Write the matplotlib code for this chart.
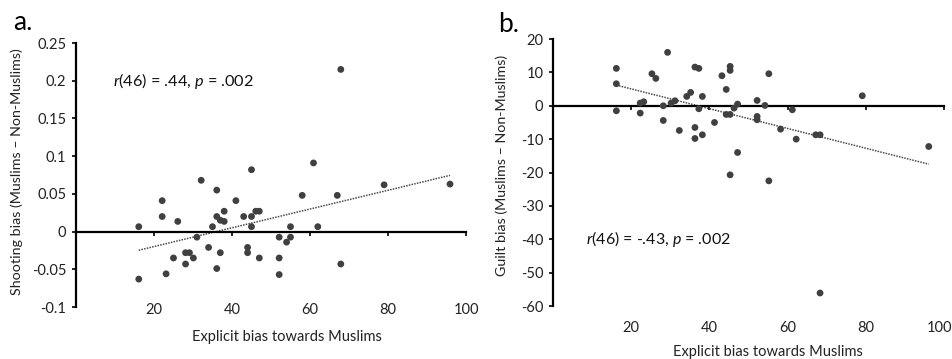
import numpy as np
import matplotlib
matplotlib.use("Agg")
import matplotlib.pyplot as plt
from matplotlib.transforms import ScaledTranslation

plt.rcParams["font.family"] = ["Lato", "DejaVu Sans"]
plt.rcParams["axes.unicode_minus"] = False
plt.rcParams["mathtext.fontset"] = "custom"
plt.rcParams["mathtext.it"] = "Lato:italic"
plt.rcParams["mathtext.rm"] = "Lato"

# panel a: explicit bias vs shooting bias
shoot_x = [16.1, 16.1, 22.1, 22.1, 23.1, 26.1, 25.0, 28.1, 29.1, 28.1, 30.1, 31.0,
           32.1, 34.0, 35.0, 36.1, 36.1, 36.1, 37.0, 37.0, 38.0, 38.0, 41.0, 43.0,
           44.0, 44.0, 45.0, 45.0, 46.1, 47.0, 47.0, 45.0, 52.1, 52.1, 52.1, 54.0,
           55.0, 55.0, 58.0, 62.0, 60.9, 67.0, 67.9, 67.9, 79.0, 95.9]
shoot_y = [0.0065, -0.063, 0.041, 0.020, -0.056, 0.0135, -0.035, -0.028, -0.028, -0.043,
           -0.035, -0.0074, 0.068, -0.021, 0.0065, 0.055, 0.020, -0.049, -0.028, 0.015,
           0.027, 0.0135, 0.041, 0.020, -0.021, -0.028, 0.020, 0.0065, 0.027, 0.027,
           -0.035, 0.082, -0.0074, -0.035, -0.057, -0.014, 0.0065, -0.0074, 0.048, 0.0065,
           0.091, 0.048, -0.043, 0.215, 0.062, 0.063]

# panel b: explicit bias vs guilt bias
guilt_x = [16.2, 16.2, 16.2, 22.3, 22.3, 23.2, 25.3, 26.3, 28.2, 28.2, 29.3, 30.2,
           31.2, 32.3, 34.2, 35.2, 36.3, 36.3, 36.3, 37.3, 37.3, 38.2, 38.2, 41.3,
           43.2, 44.3, 44.3, 45.3, 45.3, 45.3, 46.3, 47.2, 47.2, 45.3, 52.2, 52.2,
           52.2, 54.2, 55.2, 55.2, 58.2, 61.2, 62.2, 67.2, 68.3, 68.3, 79.1, 96.1]
guilt_y = [11.2, 6.6, -1.5, 0.8, -2.2, 1.2, 9.6, 8.2, 0.0, -4.4, 16.0, 0.8,
           1.5, -7.4, 2.8, 4.0, 11.6, -6.5, -9.8, 11.2, -0.9, 2.8, -8.7, -5.0,
           9.0, 4.9, -2.6, 11.8, 10.6, -2.6, -0.7, 0.5, -14.0, -20.7, 1.6, -3.2,
           -4.2, 0.1, 9.6, -22.5, -7.0, -1.2, -10.0, -8.7, -8.7, -56.1, 3.0, -12.2]

x_ticks = [20, 40, 60, 80, 100]
a_yticks = [-0.1, -0.05, 0, 0.05, 0.1, 0.15, 0.2, 0.25]
a_ylabels = ["-0.1", "-0.05", "0", "0.05", "0.1", "0.15", "0.2", "0.25"]
b_yticks = [-60, -50, -40, -30, -20, -10, 0, 10, 20]

DOT = "#404040"
TXT = "#222222"

fig = plt.figure(figsize=(9.52, 3.59), dpi=100)
ax_a = fig.add_axes([0.0798, 0.1448, 0.4097, 0.7354])
ax_b = fig.add_axes([0.5809, 0.1476, 0.4107, 0.7437])


def draw(ax, xs, ys, yticks, ylabels, ylim, ylabel, stat, stat_xy, stat_fs,
         lab_pad, xl_xy, yl_xy):
    xs = np.asarray(xs)
    ys = np.asarray(ys)
    ax.scatter(xs, ys, s=24, color=DOT, edgecolors="none", zorder=3)
    # linear trend line
    k, b0 = np.polyfit(xs, ys, 1)
    xx = np.array([xs.min(), xs.max()])
    ax.plot(xx, k * xx + b0, ls=(0, (1, 0.8)), lw=1.1, color="#4a4a4a", zorder=2)

    ax.set_xlim(0, 100)
    ax.set_ylim(*ylim)
    for s in ("top", "right"):
        ax.spines[s].set_visible(False)
    ax.spines["bottom"].set_position(("data", 0))
    ax.spines["left"].set_linewidth(1.6)
    ax.spines["bottom"].set_linewidth(1.6)
    ax.set_xticks(x_ticks)
    ax.tick_params(axis="x", direction="out", length=3, width=1.2, labelbottom=False)
    ax.set_yticks(yticks)
    ax.set_yticklabels(ylabels)
    ax.tick_params(axis="y", direction="out", length=3, width=1.2, labelsize=10.5,
                   labelcolor=TXT, pad=4)

    # x tick labels sit below the plot, not on the zero line
    sec = ax.secondary_xaxis("bottom")
    sec.set_xticks(x_ticks)
    sec.spines["bottom"].set_visible(False)
    sec.tick_params(length=0, labelsize=10.5, labelcolor=TXT, pad=lab_pad)

    ax.set_ylabel(ylabel, fontsize=10.3, color=TXT)
    ax.yaxis.set_label_coords(*yl_xy)
    ax.yaxis.label.set_va("center")
    ax.set_xlabel("Explicit bias towards Muslims", fontsize=10.5, color=TXT)
    ax.xaxis.set_label_coords(*xl_xy)
    ax.xaxis.label.set_va("center")

    ax.text(stat_xy[0], stat_xy[1], stat, fontsize=stat_fs, va="center", ha="left",
            color="#111111")
    return sec


draw(ax_a, shoot_x, shoot_y, a_yticks, a_ylabels, (-0.1, 0.25),
     "Shooting bias (Muslims – Non-Muslims)", r"$r$(46) = .44, $p$ = .002",
     (9.5, 0.2), 11.7, -3, (0.541, -0.114), (-0.151, 0.511))
sec_b = draw(ax_b, guilt_x, guilt_y, b_yticks, [str(v) for v in b_yticks], (-60, 20),
             "Guilt bias (Muslims – Non-Muslims)", r"$r$(46) = -.43, $p$ = .002",
             (8.5, -40), 11.5, 11, (0.55, -0.172), (-0.130, 0.528))

# nudge the "100" label of panel b inward so it stays inside the frame
last = sec_b.xaxis.get_major_ticks()[-1].label1
last.set_transform(last.get_transform() + ScaledTranslation(-0.05, 0, fig.dpi_scale_trans))

fig.text(13 / 952, 1 - 22 / 359, "a.", fontsize=19, va="center", ha="left")
fig.text(498 / 952, 1 - 25 / 359, "b.", fontsize=19, va="center", ha="left")

fig.savefig("out.png", dpi=100)
